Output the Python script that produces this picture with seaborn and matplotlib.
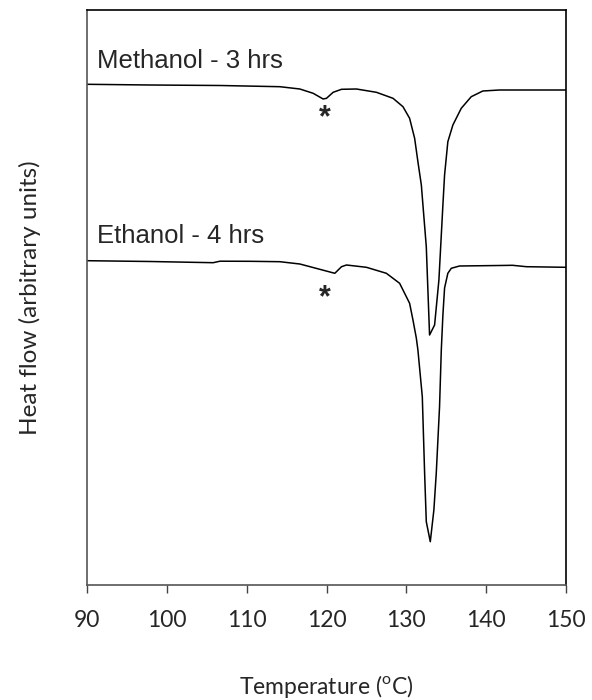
import numpy as np
import pandas as pd
import seaborn as sns
import matplotlib
matplotlib.use("Agg")
import matplotlib.pyplot as plt

# Temperature (deg C) and heat flow (arbitrary units)
meth_temp = [90.0, 97.9, 106.7, 114.16, 116.66, 118.33, 119.58, 120.0, 120.83, 121.88,
             123.75, 126.25, 128.33, 129.58, 130.41, 131.04, 131.45, 131.88, 132.08,
             132.5, 132.91, 133.54, 134.08, 134.58, 134.79, 135.2, 135.83, 136.88,
             138.13, 139.58, 141.66, 150.0]
meth_flow = [500.7, 500.0, 499.5, 498.3, 496.0, 491.7, 486.0, 486.7, 492.7, 495.7,
             496.0, 492.7, 486.7, 478.3, 466.7, 446.7, 423.3, 400.0, 380.0,
             338.3, 250.0, 260.0, 305.0, 380.0, 410.0, 443.3, 460.0, 476.7,
             488.3, 494.0, 495.0, 495.0]

eth_temp = [90.0, 97.9, 105.8, 106.66, 110.4, 114.16, 116.66, 119.16, 121.04, 121.88,
            122.5, 125.0, 127.5, 129.16, 130.0, 130.41, 130.83, 131.25, 131.45, 132.0,
            132.29, 132.5, 133.0, 133.45, 133.75, 134.16, 134.38, 134.58, 134.79,
            135.2, 135.63, 136.66, 141.66, 143.3, 145.04, 150.0]
eth_flow = [324.3, 323.5, 322.3, 323.8, 323.7, 323.3, 321.0, 315.7, 311.7, 318.3,
            320.0, 317.7, 311.7, 301.7, 288.3, 281.7, 265.0, 247.0, 235.0, 188.3,
            112.0, 63.3, 43.3, 75.0, 112.0, 178.3, 235.0, 270.0, 297.0,
            311.7, 316.7, 319.0, 319.5, 319.7, 318.3, 317.7]

labels = ["Methanol - 3 hrs", "Ethanol - 4 hrs"]
x_ticks = [90, 100, 110, 120, 130, 140, 150]

df = pd.concat([
    pd.DataFrame({"T": meth_temp, "H": meth_flow, "s": labels[0]}),
    pd.DataFrame({"T": eth_temp, "H": eth_flow, "s": labels[1]}),
])

sns.set_style("white")
plt.rcParams['font.family'] = ['Lato', 'DejaVu Sans']
plt.rcParams['mathtext.fontset'] = 'custom'
plt.rcParams['mathtext.rm'] = 'Lato'

fig = plt.figure(figsize=(5.92, 7.0), dpi=100)
ax = fig.add_axes([87/592, 115/700, 479/592, 575/700])

sns.lineplot(data=df, x="T", y="H", units="s", estimator=None, color="black",
             linewidth=1.1, ax=ax, sort=False)

ax.set_xlim(90, 150)
ax.set_ylim(0, 575)
ax.set_xticks(x_ticks)
ax.set_xticklabels([str(t) for t in x_ticks], fontsize=16.5)
ax.set_yticks([])
ax.tick_params(axis='x', direction='out', length=6, width=1.0, color='#444444',
               pad=12, bottom=True)

for side in ['left', 'bottom']:
    ax.spines[side].set_color('#555555')
    ax.spines[side].set_linewidth(1.2)
for side in ['top', 'right']:
    ax.spines[side].set_color('black')
    ax.spines[side].set_linewidth(1.2)
    ax.spines[side].set_visible(True)

ax.set_xlabel("Temperature ($^{\\mathrm{o}}$C)", fontsize=16.5, labelpad=30)
ax.set_ylabel("Heat flow (arbitrary units)", fontsize=17.5, labelpad=33)

ax.text(91.3, 524, labels[0], fontsize=18.5, family=['Liberation Sans'],
        va='center', ha='left')
ax.text(91.3, 349, labels[1], fontsize=18.5, family=['Liberation Sans'],
        va='center', ha='left')
ax.text(119.8, 467, "*", fontsize=22, fontweight='bold', ha='center', va='center',
        family=['Liberation Sans'])
ax.text(119.8, 287, "*", fontsize=22, fontweight='bold', ha='center', va='center',
        family=['Liberation Sans'])

fig.savefig("out.png", dpi=100)
